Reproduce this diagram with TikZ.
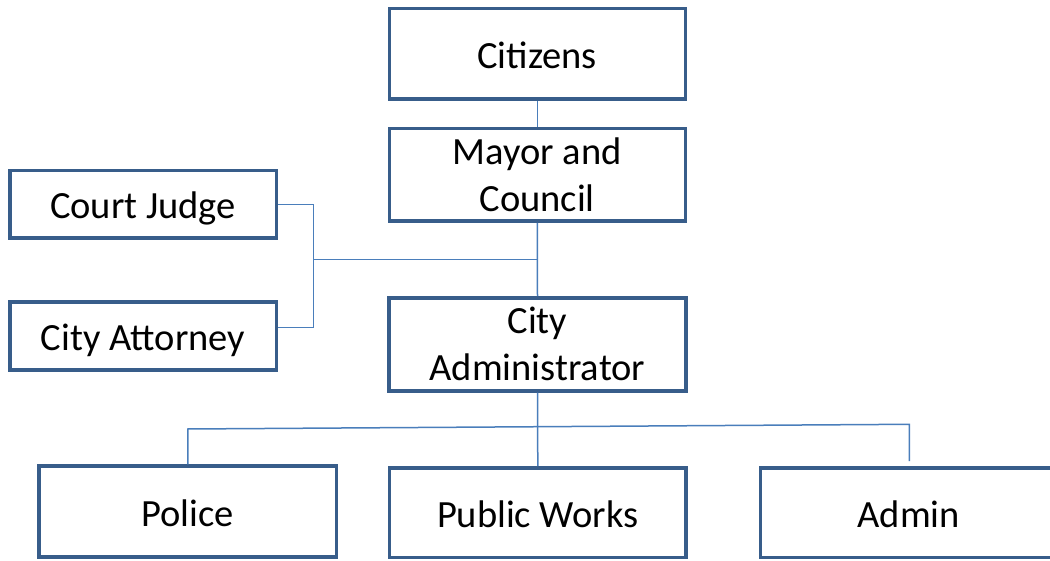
\documentclass[tikz,border=0pt]{standalone}
\usepackage{fontspec}
\setmainfont{Carlito}
\definecolor{boxline}{RGB}{56,93,138}
\definecolor{connline}{RGB}{74,126,187}
\begin{document}
\begin{tikzpicture}[x=1pt,y=-1pt,
  orgbox/.style={draw=boxline, line width=3.5pt, fill=white, rectangle, inner sep=0pt,
    align=center, font=\fontsize{38.5}{47}\selectfont, text=black},
  oneline/.style={text height=33pt, text depth=4pt},
  conn/.style={draw=connline, line width=1.5pt}]
\useasboundingbox (0,0) rectangle (1050,561);
\clip (0,0) rectangle (1050,561);
\fill[white] (0,0) rectangle (1050,561);
% boxes
\node[orgbox, oneline, minimum width=296pt, minimum height=90.5pt] (ci) at (537.25,54) {Citizens};
\node[orgbox, minimum width=296pt, minimum height=92.5pt] (mc) at (537.25,175) {Mayor and\\Council};
\node[orgbox, minimum width=297pt, minimum height=93pt] (adm) at (537.5,344.3) {City\\Administrator};
\node[orgbox, oneline, minimum width=266.5pt, minimum height=67.5pt] (cj) at (143,204.5) {Court Judge};
\node[orgbox, oneline, minimum width=266.5pt, minimum height=68pt] (ca) at (143,335.8) {City Attorney};
\node[orgbox, oneline, minimum width=297.5pt, minimum height=91pt] (pol) at (187.8,511.7) {Police};
\node[orgbox, oneline, minimum width=296.8pt, minimum height=89.5pt] (pw) at (537.8,512.5) {Public Works};
\node[orgbox, oneline, minimum width=296.8pt, minimum height=89.5pt] (ad) at (908.8,512.5) {Admin};
% junction coordinates
\coordinate (lj) at (313.3,259.3);
\coordinate (bl) at (187.8,429);
\coordinate (br) at (909.3,424.3);
\coordinate (ae) at (909.3,461);
% connectors
\draw[conn] (ci.south) -- (mc.north);
\draw[conn] (mc.south) -- (adm.north);
\draw[conn] (lj) -- (lj -| mc.south);
\draw[conn] (cj.east) -- (cj.east -| lj) -- ([yshift=8.5pt]ca.east -| lj) -- ([yshift=8.5pt]ca.east);
\draw[conn] (adm.south) -- (pw.north);
\draw[conn] (pol.north) -- (bl) -- (br) -- (ae);
\end{tikzpicture}
\end{document}
